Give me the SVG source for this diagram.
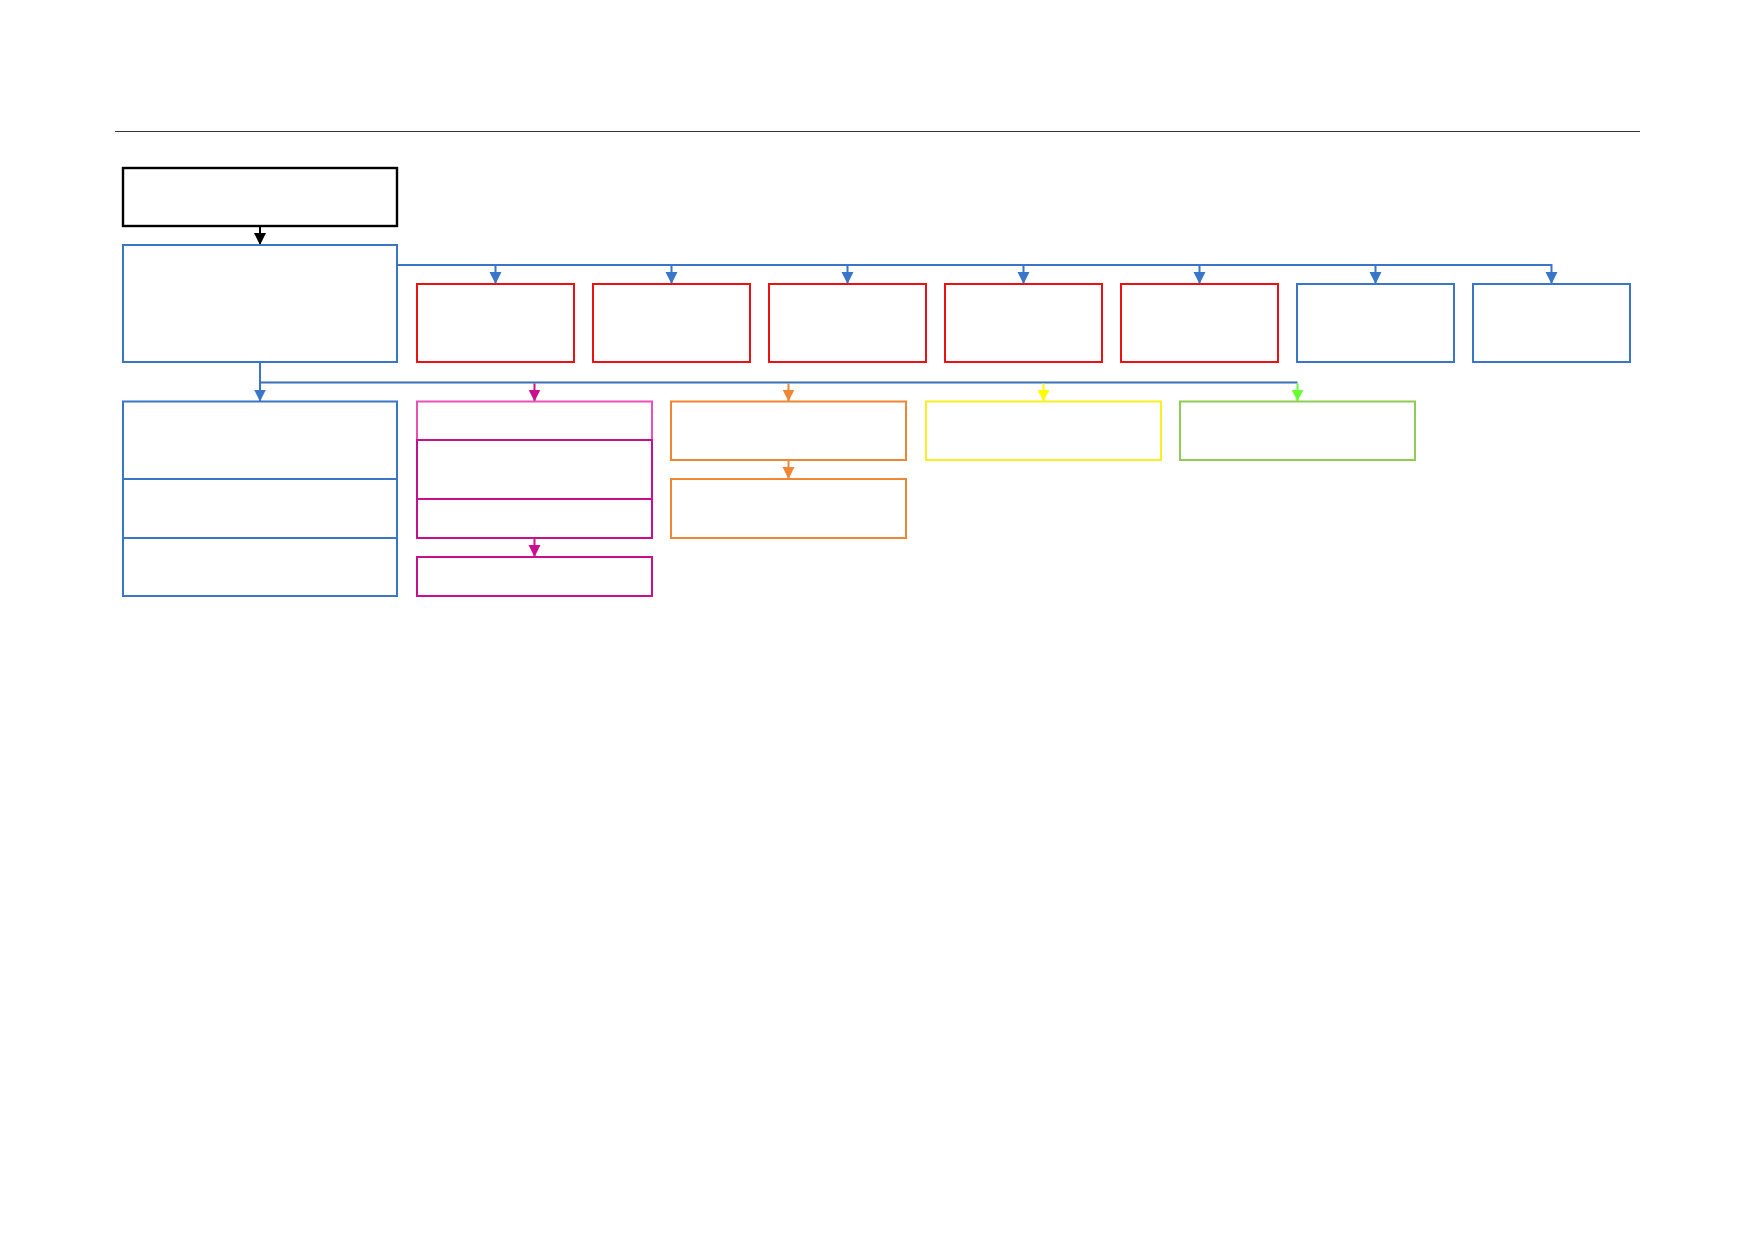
<svg xmlns="http://www.w3.org/2000/svg" width="1754" height="1239" viewBox="0 0 1754 1239">
<style>
.box{fill:#ffffff;stroke-width:2}
.k{stroke:#000000;stroke-width:2.4}
.b{stroke:#3a76c8}
.r{stroke:#ee1111}
.pl{stroke:#ec4fb5}
.pd{stroke:#c8108f}
.o{stroke:#ef8634}
.y{stroke:#f8f020}
.g{stroke:#8fcc55}
.ln{fill:none;stroke-width:2}
</style>
<defs>
<marker id="ak" markerUnits="userSpaceOnUse" markerWidth="13" markerHeight="13" refX="12" refY="6" orient="auto"><path d="M0,0 L12,6 L0,12 z" fill="#000000"/></marker>
<marker id="ab" markerUnits="userSpaceOnUse" markerWidth="13" markerHeight="13" refX="12" refY="6" orient="auto"><path d="M0,0 L12,6 L0,12 z" fill="#3a76c8"/></marker>
<marker id="ap" markerUnits="userSpaceOnUse" markerWidth="13" markerHeight="13" refX="12" refY="6" orient="auto"><path d="M0,0 L12,6 L0,12 z" fill="#c8108f"/></marker>
<marker id="ao" markerUnits="userSpaceOnUse" markerWidth="13" markerHeight="13" refX="12" refY="6" orient="auto"><path d="M0,0 L12,6 L0,12 z" fill="#ef8634"/></marker>
<marker id="ay" markerUnits="userSpaceOnUse" markerWidth="13" markerHeight="13" refX="12" refY="6" orient="auto"><path d="M0,0 L12,6 L0,12 z" fill="#ffff00"/></marker>
<marker id="ag" markerUnits="userSpaceOnUse" markerWidth="13" markerHeight="13" refX="12" refY="6" orient="auto"><path d="M0,0 L12,6 L0,12 z" fill="#66ff33"/></marker>
</defs>
<rect width="1754" height="1239" fill="#ffffff"/>
<line x1="115" y1="131.5" x2="1640" y2="131.5" stroke="#333333" stroke-width="1"/>

<g id="connectors">
<path class="ln" stroke="#000000" d="M260,226 V245" marker-end="url(#ak)"/>
<path class="ln" stroke="#3a76c8" d="M397,265 H1551.5 V284" marker-end="url(#ab)"/>
<path class="ln" stroke="#3a76c8" d="M495.5,265 V284" marker-end="url(#ab)"/>
<path class="ln" stroke="#3a76c8" d="M671.5,265 V284" marker-end="url(#ab)"/>
<path class="ln" stroke="#3a76c8" d="M847.5,265 V284" marker-end="url(#ab)"/>
<path class="ln" stroke="#3a76c8" d="M1023.5,265 V284" marker-end="url(#ab)"/>
<path class="ln" stroke="#3a76c8" d="M1199.5,265 V284" marker-end="url(#ab)"/>
<path class="ln" stroke="#3a76c8" d="M1375.5,265 V284" marker-end="url(#ab)"/>
<path class="ln" stroke="#3a76c8" d="M260,362 V401.5" marker-end="url(#ab)"/>
<path class="ln" stroke="#3b6fb6" d="M260,382.5 H1297.5"/>
<path class="ln" stroke="#c8108f" d="M534.5,383.5 V401.5" marker-end="url(#ap)"/>
<path class="ln" stroke="#ef8634" d="M788.5,383.5 V401.5" marker-end="url(#ao)"/>
<path class="ln" stroke="#ffff00" d="M1043.5,383.5 V401.5" marker-end="url(#ay)"/>
<path class="ln" stroke="#66ff33" d="M1297.5,383.5 V401.5" marker-end="url(#ag)"/>
<path class="ln" stroke="#c8108f" d="M534.5,538 V557" marker-end="url(#ap)"/>
<path class="ln" stroke="#ef8634" d="M788.5,460 V479" marker-end="url(#ao)"/>
</g>

<g id="node-top"><rect class="box k" x="123" y="168" width="274" height="58"/></g>
<g id="node-main"><rect class="box b" x="123" y="245" width="274" height="117"/></g>

<g id="node-r1"><rect class="box r" x="417" y="284" width="157" height="78"/></g>
<g id="node-r2"><rect class="box r" x="593" y="284" width="157" height="78"/></g>
<g id="node-r3"><rect class="box r" x="769" y="284" width="157" height="78"/></g>
<g id="node-r4"><rect class="box r" x="945" y="284" width="157" height="78"/></g>
<g id="node-r5"><rect class="box r" x="1121" y="284" width="157" height="78"/></g>
<g id="node-b6"><rect class="box b" x="1297" y="284" width="157" height="78"/></g>
<g id="node-b7"><rect class="box b" x="1473" y="284" width="157" height="78"/></g>

<g id="node-blue-stack">
<rect class="box b" x="123" y="401.5" width="274" height="77.5"/>
<rect class="box b" x="123" y="479" width="274" height="59"/>
<rect class="box b" x="123" y="538" width="274" height="58"/>
</g>

<g id="node-pink-stack">
<rect class="box pl" x="417" y="401.5" width="235" height="38.5"/>
<rect class="box pd" x="417" y="440" width="235" height="59"/>
<rect class="box pd" x="417" y="499" width="235" height="39"/>
</g>
<g id="node-pink-low"><rect class="box pd" x="417" y="557" width="235" height="39"/></g>

<g id="node-orange"><rect class="box o" x="671" y="401.5" width="235" height="58.5"/></g>
<g id="node-orange-low"><rect class="box o" x="671" y="479" width="235" height="59"/></g>
<g id="node-yellow"><rect class="box y" x="926" y="401.5" width="235" height="58.5"/></g>
<g id="node-green"><rect class="box g" x="1180" y="401.5" width="235" height="58.5"/></g>
</svg>
